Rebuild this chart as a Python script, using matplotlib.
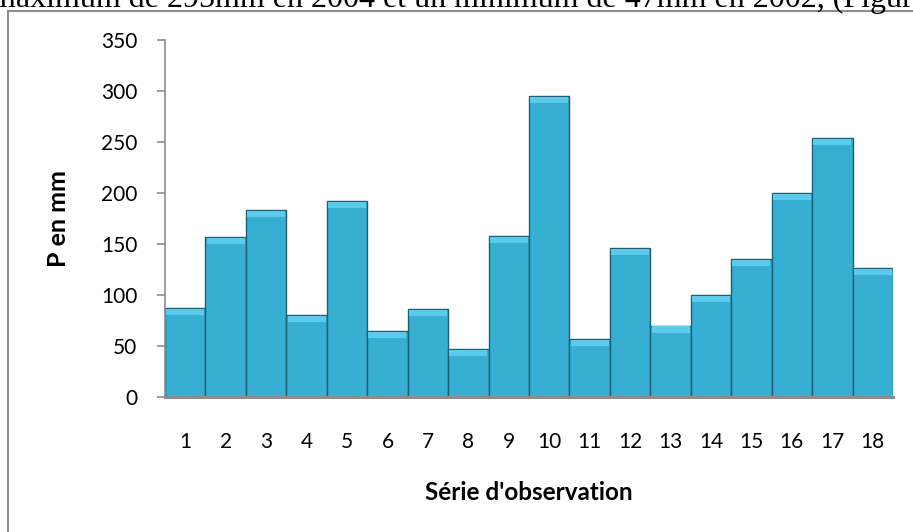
import matplotlib.pyplot as plt
from matplotlib.patches import Rectangle

# precipitation per observation year (mm)
series = list(range(1, 19))
precip = [87, 157, 183, 80, 192, 65, 86, 47, 158, 295, 57, 146, 70, 100, 135, 200, 254, 126]
yticks = [0, 50, 100, 150, 200, 250, 300, 350]

caption = "maximum de 295mm en 2004 et un minimum de 47mm en 2002, (Figure"

W, H = 913, 532
fig = plt.figure(figsize=(W / 100, H / 100), dpi=100)
fig.patch.set_facecolor("white")

# cut off line of the surrounding document
fig.text(-9 / W, 1 - 7 / H, caption, family="Liberation Serif", fontsize=23.0,
         ha="left", va="baseline", color="black")

# frame of the chart object
fig.patches.append(Rectangle((8 / W, -0.1), 1.2, 1 - 11 / H + 0.1, transform=fig.transFigure,
                             fill=False, edgecolor="#8c8c8c", linewidth=1.5))

ax = fig.add_axes([165 / W, 1 - 397 / H, (893 - 165) / W, (397 - 40) / H])
ax.bar(series, precip, width=1.0, color="#36afd3", edgecolor="#1d5f72", linewidth=1.0)
# light bevel on top of each bar
bevel = 6
ax.bar(series, [bevel] * len(series), bottom=[v - bevel - 0.8 for v in precip], width=0.94,
       color="#5ccbeb", edgecolor="none")

ax.set_xlim(0.5, 18.5)
ax.set_ylim(0, 350)
ax.set_yticks(yticks)
ax.set_xticks(series)
ax.set_xticklabels([str(s) for s in series])

for s in ["top", "right"]:
    ax.spines[s].set_visible(False)
ax.spines["left"].set_color("#8c8c8c")
ax.spines["left"].set_linewidth(1.2)
ax.spines["bottom"].set_color("#8c8c8c")
ax.spines["bottom"].set_linewidth(2.2)

ax.tick_params(axis="y", length=6, width=1.2, color="#8c8c8c", pad=14, labelsize=15)
ax.tick_params(axis="x", length=0, pad=25, labelsize=15)
for lab in ax.get_xticklabels() + ax.get_yticklabels():
    lab.set_family("Lato")

ax.set_xlabel("Série d'observation", family="Lato", fontweight="bold", fontsize=17.5, labelpad=21)
ax.set_ylabel("P en mm", family="Lato", fontweight="bold", fontsize=18, labelpad=22)

fig.savefig("out.png", dpi=100)
